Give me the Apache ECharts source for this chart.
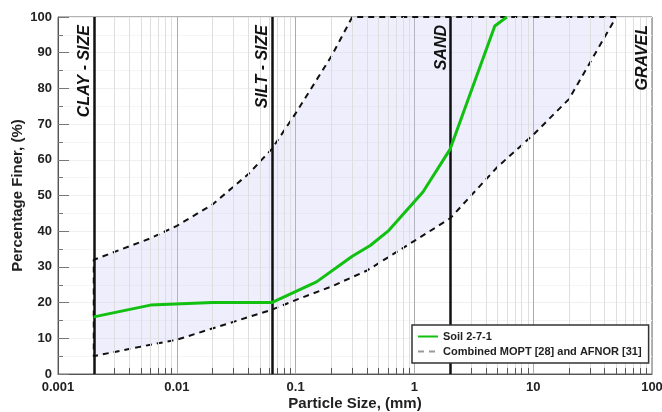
<!DOCTYPE html>
<html>
<head>
<meta charset="utf-8">
<script src="https://cdn.jsdelivr.net/npm/echarts@6/dist/echarts.min.js"></script>
<style>
  html, body { margin: 0; padding: 0; background: #fff; }
  #chart { width: 662px; height: 412px; }
</style>
</head>
<body>
<div id="chart"></div>
<script>
// grain size distribution, size in mm, finer in %
const soilSize = [0.002, 0.006, 0.02, 0.063, 0.15, 0.3, 0.425, 0.6, 1.18, 2, 4.75, 6]
const soilFiner = [16, 19.3, 20, 20, 25.8, 33, 36, 40, 51, 63, 97.5, 100]

// envelope of the combined MOPT / AFNOR spec
const upperSize = [0.002, 0.006, 0.01, 0.02, 0.04, 0.063, 0.1, 0.2, 0.3, 50]
const upperFiner = [32, 38, 41.5, 47.5, 56, 63, 73, 89, 100, 100]
const lowerSize = [0.002, 0.006, 0.01, 0.063, 0.1, 0.2, 0.4, 1, 2, 5, 10, 20, 50]
const lowerFiner = [5, 8.2, 9.6, 18, 20.7, 24.5, 29, 37.3, 43.6, 58, 67, 77, 100]

// size class boundaries
const boundSize = [0.002, 0.063, 2, 100]
const boundNames = ['CLAY - SIZE', 'SILT - SIZE', 'SAND', 'GRAVEL']

const xMin = 0.001
const xMax = 100

const FONT = '"Liberation Sans", Arial, sans-serif'

const soilData = soilSize.map((s, i) => [s, soilFiner[i]])
const upperPts = upperSize.map((s, i) => [s, upperFiner[i]])
const lowerPts = lowerSize.map((s, i) => [s, lowerFiner[i]])
// outline goes along the upper curve backwards, then the lower curve
const envelopeData = upperPts.slice().reverse().concat(lowerPts)

// minor grid lines 2..9 in each decade
const minorVals = []
for (let d = xMin; d < xMax * 0.99; d *= 10) {
  for (let m = 2; m <= 9; m++) minorVals.push(+(m * d).toPrecision(3))
}

const chart = echarts.init(document.getElementById('chart'))

chart.setOption({
  animation: false,
  textStyle: { fontFamily: FONT },
  grid: {
    left: 58,
    right: 10,
    top: 17,
    bottom: 38,
    containLabel: false,
    outerBoundsMode: 'none',
    show: true,
    borderColor: '#666',
    borderWidth: 1
  },
  legend: {
    data: [
      { name: 'Soil 2-7-1' },
      { name: 'Combined MOPT [28] and AFNOR [31]', lineStyle: { color: '#999' } }
    ],
    orient: 'vertical',
    left: 412,
    top: 325,
    z: 20,
    itemWidth: 20,
    itemHeight: 10,
    itemGap: 4,
    padding: [6, 7, 6, 5],
    backgroundColor: '#fff',
    borderColor: '#333',
    borderWidth: 1.5,
    borderRadius: 0,
    itemStyle: { opacity: 0 },
    textStyle: { fontFamily: FONT, fontWeight: 'bold', fontSize: 11, color: '#222' }
  },
  xAxis: {
    type: 'log',
    logBase: 10,
    min: xMin,
    max: xMax,
    name: 'Particle Size, (mm)',
    nameLocation: 'middle',
    nameGap: 22,
    nameMoveOverlap: false,
    nameTextStyle: { fontFamily: FONT, fontWeight: 'bold', fontSize: 15, color: '#222' },
    axisLine: { show: true, onZero: false, lineStyle: { color: '#555', width: 1 } },
    axisTick: { show: false },
    axisLabel: {
      fontFamily: FONT, fontWeight: 'bold', fontSize: 13, color: '#222', margin: 7,
      formatter: v => String(+v.toPrecision(3))
    },
    splitLine: { show: true, lineStyle: { color: '#ababab', width: 1 } }
  },
  yAxis: {
    type: 'value',
    min: 0,
    max: 100,
    interval: 10,
    name: 'Percentage Finer, (%)',
    nameLocation: 'middle',
    nameRotate: 90,
    nameGap: 33,
    nameMoveOverlap: false,
    nameTextStyle: { fontFamily: FONT, fontWeight: 'bold', fontSize: 15, color: '#222' },
    axisLine: { show: true, lineStyle: { color: '#555', width: 1 } },
    axisTick: { show: true, inside: true, length: 11, lineStyle: { color: '#777' } },
    minorTick: { show: true, splitNumber: 2, length: 5, lineStyle: { color: '#777' } },
    axisLabel: { fontFamily: FONT, fontWeight: 'bold', fontSize: 13, color: '#222', margin: 6 },
    splitLine: { show: true, lineStyle: { color: '#efefef' } },
    minorSplitLine: { show: true, lineStyle: { color: '#f5f5f5' } }
  },
  series: [
    {
      // minor vertical grid and bottom ticks
      name: 'minor',
      type: 'line',
      data: [],
      silent: true,
      z: 1,
      markLine: {
        silent: true,
        symbol: 'none',
        precision: 6,
        label: { show: false },
        animation: false,
        data: minorVals.map(v => ({ xAxis: v, lineStyle: { color: '#dedede', width: 1, type: 'solid' } }))
          .concat(minorVals.map(v => [
            { coord: [v, 0], lineStyle: { color: '#555', width: 1, type: 'solid' } },
            { coord: [v, 1.7] }
          ]))
      }
    },
    {
      name: 'band',
      type: 'custom',
      silent: true,
      z: 2,
      data: [[boundSize[0], 0]],
      renderItem: (params, api) => {
        const pts = upperPts.concat(lowerPts.slice().reverse()).map(p => api.coord(p))
        return {
          type: 'polygon',
          shape: { points: pts },
          style: { fill: 'rgba(200, 200, 245, 0.3)', stroke: 'none' }
        }
      }
    },
    {
      name: 'bounds',
      type: 'line',
      data: [],
      silent: true,
      z: 3,
      markLine: {
        silent: true,
        symbol: 'none',
        precision: 6,
        animation: false,
        lineStyle: { color: '#111', width: 2.5, type: 'solid' },
        label: {
          show: true,
          position: 'insideEndTop',
          formatter: '{b}',
          fontFamily: FONT,
          fontWeight: 'bold',
          fontStyle: 'italic',
          fontSize: 16,
          color: '#111',
          distance: [8, 1]
        },
        data: boundSize.map((v, i) => ({
          xAxis: v,
          name: boundNames[i],
          lineStyle: i === boundSize.length - 1 ? { color: 'rgba(0,0,0,0)', width: 1 } : { color: '#111', width: 2.5 }
        }))
      }
    },
    {
      name: 'Combined MOPT [28] and AFNOR [31]',
      type: 'line',
      data: envelopeData,
      symbol: 'none',
      z: 4,
      lineStyle: { color: '#111', width: 2, type: [6, 5] },
      itemStyle: { color: '#111' }
    },
    {
      name: 'Soil 2-7-1',
      type: 'line',
      data: soilData,
      symbol: 'none',
      z: 5,
      lineStyle: { color: '#11c011', width: 3 },
      itemStyle: { color: '#11c011' }
    }
  ]
})
</script>
</body>
</html>
